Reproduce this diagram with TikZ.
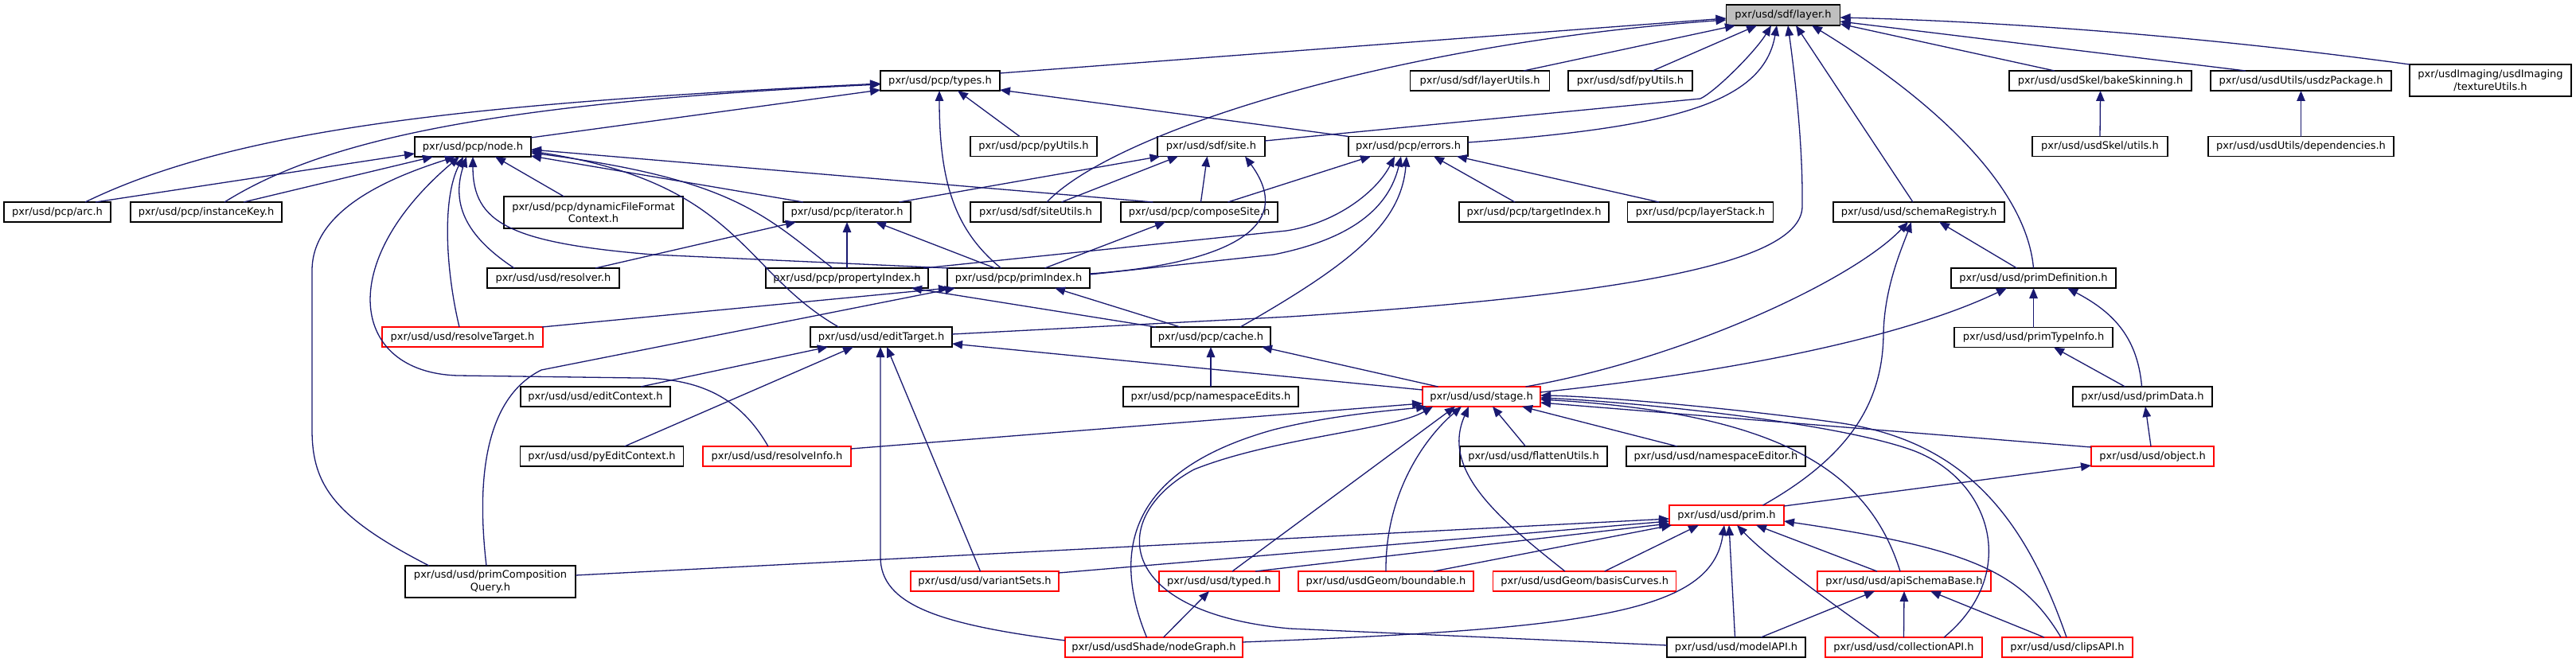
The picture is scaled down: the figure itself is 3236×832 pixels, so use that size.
\documentclass[tikz,border=0pt]{standalone}
\usepackage{fontspec}
\setmainfont{DejaVu Sans}
\usetikzlibrary{arrows.meta}
\definecolor{eblue}{RGB}{25,25,112}
\definecolor{rbord}{RGB}{255,0,0}
\definecolor{gfill}{RGB}{191,191,191}
\begin{document}
\begin{tikzpicture}[x=1pt,y=-1pt,
 box/.style={draw=black,fill=white,line width=1.2pt,inner sep=0pt,align=center,font=\fontsize{13}{15.5}\selectfont,minimum height=25pt},
 rbox/.style={box,draw=rbord},
 gbox/.style={box,fill=gfill},
 ed/.style={draw=eblue,line width=1.3pt,-{Triangle[length=13pt,width=10.5pt]}}]
\useasboundingbox[fill=white] (0,0) rectangle (3236,832);
% nodes
\node[gbox,minimum width=143pt,minimum height=26pt] (layer) at (2240,19) {pxr/usd/sdf/layer.h};
\node[box,minimum width=150pt] (types) at (1181,101.5) {pxr/usd/pcp/types.h};
\node[box,minimum width=175pt] (layerUtils) at (1859,101.5) {pxr/usd/sdf/layerUtils.h};
\node[box,minimum width=156pt] (sdfPyUtils) at (2048,101.5) {pxr/usd/sdf/pyUtils.h};
\node[box,minimum width=229pt] (bakeSkinning) at (2638.5,101.5) {pxr/usd/usdSkel/bakeSkinning.h};
\node[box,minimum width=227pt] (usdzPackage) at (2890.5,101.5) {pxr/usd/usdUtils/usdzPackage.h};
\node[box,minimum width=203pt,minimum height=40pt] (textureUtils) at (3128.5,101) {pxr/usdImaging/usdImaging\\/textureUtils.h};
\node[box,minimum width=146pt] (node) at (594,184.5) {pxr/usd/pcp/node.h};
\node[box,minimum width=159pt] (pcpPyUtils) at (1298.5,184) {pxr/usd/pcp/pyUtils.h};
\node[box,minimum width=135pt] (site) at (1521.5,184) {pxr/usd/sdf/site.h};
\node[box,minimum width=150pt] (errors) at (1769,184) {pxr/usd/pcp/errors.h};
\node[box,minimum width=170pt] (skelUtils) at (2638,184) {pxr/usd/usdSkel/utils.h};
\node[box,minimum width=233pt] (dependencies) at (2890.5,184) {pxr/usd/usdUtils/dependencies.h};
\node[box,minimum width=134pt] (arc) at (72,266.5) {pxr/usd/pcp/arc.h};
\node[box,minimum width=190pt] (instanceKey) at (259,266.5) {pxr/usd/pcp/instanceKey.h};
\node[box,minimum width=225pt,minimum height=40pt] (dynFF) at (745.5,267) {pxr/usd/pcp/dynamicFileFormat\\Context.h};
\node[box,minimum width=160pt] (iterator) at (1064,266.5) {pxr/usd/pcp/iterator.h};
\node[box,minimum width=164pt] (siteUtils) at (1301,266.5) {pxr/usd/sdf/siteUtils.h};
\node[box,minimum width=197pt] (composeSite) at (1506.5,266.5) {pxr/usd/pcp/composeSite.h};
\node[box,minimum width=188pt] (targetIndex) at (1927,266.5) {pxr/usd/pcp/targetIndex.h};
\node[box,minimum width=183pt] (layerStack) at (2136,266.5) {pxr/usd/pcp/layerStack.h};
\node[box,minimum width=215pt] (schemaRegistry) at (2410.5,266.5) {pxr/usd/usd/schemaRegistry.h};
\node[box,minimum width=166pt] (resolver) at (695,349.5) {pxr/usd/usd/resolver.h};
\node[box,minimum width=204pt] (propertyIndex) at (1064,349.5) {pxr/usd/pcp/propertyIndex.h};
\node[box,minimum width=179pt] (primIndex) at (1279.5,349.5) {pxr/usd/pcp/primIndex.h};
\node[box,minimum width=207pt] (primDefinition) at (2554.5,349.5) {pxr/usd/usd/primDefinition.h};
\node[rbox,minimum width=202pt] (resolveTarget) at (581,423.5) {pxr/usd/usd/resolveTarget.h};
\node[box,minimum width=178pt] (editTarget) at (1107,423.5) {pxr/usd/usd/editTarget.h};
\node[box,minimum width=150pt] (cache) at (1521,423.5) {pxr/usd/pcp/cache.h};
\node[box,minimum width=199pt] (primTypeInfo) at (2554.5,424) {pxr/usd/usd/primTypeInfo.h};
\node[box,minimum width=188pt] (editContext) at (748,498.5) {pxr/usd/usd/editContext.h};
\node[box,minimum width=220pt] (namespaceEdits) at (1521,498.5) {pxr/usd/pcp/namespaceEdits.h};
\node[rbox,minimum width=148pt] (stage) at (1861,498.5) {pxr/usd/usd/stage.h};
\node[box,minimum width=175pt] (primData) at (2691.5,498.5) {pxr/usd/usd/primData.h};
\node[box,minimum width=205pt] (pyEditContext) at (756,573.5) {pxr/usd/usd/pyEditContext.h};
\node[rbox,minimum width=186pt] (resolveInfo) at (976,573.5) {pxr/usd/usd/resolveInfo.h};
\node[box,minimum width=185pt] (flattenUtils) at (1926.5,573.5) {pxr/usd/usd/flattenUtils.h};
\node[box,minimum width=225pt] (namespaceEditor) at (2155.5,573.5) {pxr/usd/usd/namespaceEditor.h};
\node[rbox,minimum width=154pt] (object) at (2704,573.5) {pxr/usd/usd/object.h};
\node[rbox,minimum width=144pt] (prim) at (2169,647.5) {pxr/usd/usd/prim.h};
\node[box,minimum width=214pt,minimum height=40pt] (primCompQuery) at (616,731) {pxr/usd/usd/primComposition\\Query.h};
\node[rbox,minimum width=186pt] (variantSets) at (1237,730.5) {pxr/usd/usd/variantSets.h};
\node[rbox,minimum width=151pt] (typed) at (1531.5,730.5) {pxr/usd/usd/typed.h};
\node[rbox,minimum width=220pt] (boundable) at (1741,730.5) {pxr/usd/usdGeom/boundable.h};
\node[rbox,minimum width=230pt] (basisCurves) at (1990.7,730.5) {pxr/usd/usdGeom/basisCurves.h};
\node[rbox,minimum width=218pt] (apiSchemaBase) at (2392,730.5) {pxr/usd/usd/apiSchemaBase.h};
\node[rbox,minimum width=223pt] (nodeGraph) at (1449.5,813.5) {pxr/usd/usdShade/nodeGraph.h};
\node[box,minimum width=174pt] (modelAPI) at (2181,813.5) {pxr/usd/usd/modelAPI.h};
\node[rbox,minimum width=197pt] (collectionAPI) at (2391.5,813.5) {pxr/usd/usd/collectionAPI.h};
\node[rbox,minimum width=164pt] (clipsAPI) at (2597,813.5) {pxr/usd/usd/clipsAPI.h};
% edges
\draw[ed] ([shift={(75,-9.5)}]types.center) -- ([shift={(-71.5,4)}]layer.center);
\draw[ed] ([shift={(14,-12.5)}]siteUtils.center) .. controls (1400,165) and (1750,55) .. ([shift={(-71.5,6)}]layer.center);
\draw[ed] ([shift={(55,-12.5)}]layerUtils.center) -- ([shift={(-60,13)}]layer.center);
\draw[ed] ([shift={(28,-12.5)}]sdfPyUtils.center) -- ([shift={(-33,13)}]layer.center);
\draw[ed] ([shift={(67.5,-7)}]site.center) -- (2136,124) .. controls (2155,115) and (2205,65) .. ([shift={(-15,13)}]layer.center);
\draw[ed] ([shift={(75,-5)}]errors.center) .. controls (2100,160) and (2215,130) .. ([shift={(-8,13)}]layer.center);
\draw[ed] ([shift={(89,-3.5)}]editTarget.center) -- (1620,398) .. controls (2050,370) and (2262,330) .. (2264,260) .. controls (2265,180) and (2254,90) .. ([shift={(6,13)}]layer.center);
\draw[ed] ([shift={(-7.5,-12.5)}]schemaRegistry.center) -- ([shift={(16,13)}]layer.center);
\draw[ed] ([shift={(0,-12.5)}]primDefinition.center) .. controls (2545,230) and (2420,120) .. ([shift={(36,13)}]layer.center);
\draw[ed] ([shift={(-57.5,-12.5)}]bakeSkinning.center) -- ([shift={(71.5,11)}]layer.center);
\draw[ed] ([shift={(-69.5,-12.5)}]usdzPackage.center) -- ([shift={(71.5,8)}]layer.center);
\draw[ed] ([shift={(-101.5,-20)}]textureUtils.center) .. controls (2800,50) and (2550,28) .. ([shift={(71.5,3)}]layer.center);
\draw[ed] ([shift={(35,-12.5)}]arc.center) .. controls (300,160) and (600,130) .. ([shift={(-75,3.5)}]types.center);
\draw[ed] ([shift={(23,-12.5)}]instanceKey.center) .. controls (400,180) and (600,130) .. ([shift={(-75,4.5)}]types.center);
\draw[ed] ([shift={(73,-11.5)}]node.center) -- ([shift={(-75,11.5)}]types.center);
\draw[ed] ([shift={(-17.5,-12.5)}]pcpPyUtils.center) -- ([shift={(22,12.5)}]types.center);
\draw[ed] ([shift={(-22,-12.5)}]primIndex.center) .. controls (1200,290) and (1180,230) .. ([shift={(-1,12.5)}]types.center);
\draw[ed] ([shift={(-75,-12.5)}]errors.center) -- ([shift={(75,11.5)}]types.center);
\draw[ed] ([shift={(48,-12.5)}]arc.center) -- ([shift={(-73,8.5)}]node.center);
\draw[ed] ([shift={(47,-12.5)}]instanceKey.center) -- ([shift={(-50,12.5)}]node.center);
\draw[ed] ([shift={(-77,-20)}]primCompQuery.center) .. controls (420,650) and (392,610) .. (392,540) -- (392,340) .. controls (392,260) and (500,220) .. ([shift={(-22,12.5)}]node.center);
\draw[ed] ([shift={(-11,-12.5)}]resolveInfo.center) .. controls (930,500) and (880,475) .. (800,475) -- (575,472) .. controls (440,468) and (420,330) .. ([shift={(-17,12.5)}]node.center);
\draw[ed] ([shift={(-4,-12.5)}]resolveTarget.center) .. controls (560,340) and (555,250) .. ([shift={(-12,12.5)}]node.center);
\draw[ed] ([shift={(-49,-12.5)}]resolver.center) .. controls (590,300) and (565,260) .. ([shift={(-8,12.5)}]node.center);
\draw[ed] ([shift={(-87.5,-12.5)}]primIndex.center) -- (820,320) .. controls (640,305) and (594,280) .. ([shift={(0,12.5)}]node.center);
\draw[ed] ([shift={(-37,-20)}]dynFF.center) -- ([shift={(28,12.5)}]node.center);
\draw[ed] ([shift={(-58,-12.5)}]composeSite.center) -- ([shift={(73,3.5)}]node.center);
\draw[ed] ([shift={(-55,-12.5)}]iterator.center) -- ([shift={(73,11.5)}]node.center);
\draw[ed] ([shift={(-53.5,-12.5)}]editTarget.center) .. controls (930,340) and (930,230) .. ([shift={(73,5.5)}]node.center);
\draw[ed] ([shift={(-18,-12.5)}]propertyIndex.center) .. controls (960,270) and (920,225) .. ([shift={(73,7.5)}]node.center);
\draw[ed] ([shift={(65.5,-12.5)}]iterator.center) -- ([shift={(-64,12.5)}]site.center);
\draw[ed] ([shift={(32.5,-12.5)}]siteUtils.center) -- ([shift={(-41.5,12.5)}]site.center);
\draw[ed] ([shift={(2,-12.5)}]composeSite.center) -- ([shift={(-5,12.5)}]site.center);
\draw[ed] ([shift={(89.5,-5.5)}]primIndex.center) .. controls (1500,335) and (1640,300) .. ([shift={(42.5,12.5)}]site.center);
\draw[ed] ([shift={(36,-12.5)}]composeSite.center) -- ([shift={(-47,12.5)}]errors.center);
\draw[ed] ([shift={(96,-12.5)}]propertyIndex.center) -- (1616,290) .. controls (1680,280) and (1730,240) .. ([shift={(-17,12.5)}]errors.center);
\draw[ed] ([shift={(89.5,-4.5)}]primIndex.center) -- (1600,320) .. controls (1700,300) and (1745,260) .. ([shift={(-9,12.5)}]errors.center);
\draw[ed] ([shift={(37,-12.5)}]cache.center) .. controls (1700,330) and (1760,280) .. ([shift={(-2,12.5)}]errors.center);
\draw[ed] ([shift={(-24,-12.5)}]targetIndex.center) -- ([shift={(32,12.5)}]errors.center);
\draw[ed] ([shift={(-52,-12.5)}]layerStack.center) -- ([shift={(61,12.5)}]errors.center);
\draw[ed] ([shift={(53,-12.5)}]resolver.center) -- ([shift={(-64,12.5)}]iterator.center);
\draw[ed] ([shift={(0,-12.5)}]propertyIndex.center) -- ([shift={(0,12.5)}]iterator.center);
\draw[ed] ([shift={(-29.5,-12.5)}]primIndex.center) -- ([shift={(36,12.5)}]iterator.center);
\draw[ed] ([shift={(33,-12.5)}]primIndex.center) -- ([shift={(-42.5,12.5)}]composeSite.center);
\draw[ed] ([shift={(-69,-12.5)}]cache.center) -- ([shift={(81,12.5)}]propertyIndex.center);
\draw[ed] ([shift={(100,-12.5)}]resolveTarget.center) -- ([shift={(-87.5,12.5)}]primIndex.center);
\draw[ed] ([shift={(-5,-20)}]primCompQuery.center) .. controls (598,600) and (610,500) .. (680,465) -- ([shift={(-79.5,12.5)}]primIndex.center);
\draw[ed] ([shift={(-38.5,-12.5)}]cache.center) -- ([shift={(45.5,12.5)}]primIndex.center);
\draw[ed] ([shift={(57,-12.5)}]editContext.center) -- ([shift={(-67,12.5)}]editTarget.center);
\draw[ed] ([shift={(28.5,-12.5)}]pyEditContext.center) -- ([shift={(-35,12.5)}]editTarget.center);
\draw[ed] ([shift={(-111.5,-8.5)}]nodeGraph.center) .. controls (1180,785) and (1106,760) .. (1106,700) -- ([shift={(-1,12.5)}]editTarget.center);
\draw[ed] ([shift={(-5.5,-12.5)}]variantSets.center) -- ([shift={(7,12.5)}]editTarget.center);
\draw[ed] ([shift={(-74,-8.5)}]stage.center) -- ([shift={(89,8.5)}]editTarget.center);
\draw[ed] ([shift={(0,-12.5)}]namespaceEdits.center) -- ([shift={(0,12.5)}]cache.center);
\draw[ed] ([shift={(-54.5,-12.5)}]stage.center) -- ([shift={(64,12.5)}]cache.center);
\draw[ed] ([shift={(55.5,-12.5)}]stage.center) .. controls (2120,450) and (2330,350) .. ([shift={(-13.5,12.5)}]schemaRegistry.center);
\draw[ed] ([shift={(74,-5.5)}]stage.center) .. controls (2200,465) and (2400,420) .. ([shift={(-33.5,12.5)}]primDefinition.center);
\draw[ed] ([shift={(93,-9.5)}]resolveInfo.center) -- ([shift={(-74,8.5)}]stage.center);
\draw[ed] ([shift={(0,-12.5)}]skelUtils.center) -- ([shift={(0,12.5)}]bakeSkinning.center);
\draw[ed] ([shift={(0,-12.5)}]dependencies.center) -- ([shift={(0,12.5)}]usdzPackage.center);
\draw[ed] ([shift={(-21,-12.5)}]primDefinition.center) -- ([shift={(25.5,12.5)}]schemaRegistry.center);
\draw[ed] ([shift={(0,-12.5)}]primTypeInfo.center) -- ([shift={(0,12.5)}]primDefinition.center);
\draw[ed] ([shift={(-1,-12.5)}]primData.center) .. controls (2685,420) and (2650,390) .. ([shift={(42.5,12.5)}]primDefinition.center);
\draw[ed] ([shift={(-22,-12.5)}]primData.center) -- ([shift={(25.5,12.5)}]primTypeInfo.center);
\draw[ed] ([shift={(-2,-12.5)}]object.center) -- ([shift={(3.5,12.5)}]primData.center);
\draw[ed] ([shift={(45.5,-12.5)}]prim.center) .. controls (2330,570) and (2365,500) .. (2366,420) .. controls (2367,360) and (2390,310) .. ([shift={(-9.5,12.5)}]schemaRegistry.center);
\draw[ed] ([shift={(72,-11.5)}]prim.center) -- ([shift={(-77,11.5)}]object.center);
\draw[ed] ([shift={(-77,-11.5)}]object.center) -- ([shift={(74,7.5)}]stage.center);
\draw[ed] ([shift={(107,-8)}]primCompQuery.center) -- ([shift={(-72,4.5)}]prim.center);
\draw[ed] ([shift={(93,-10.5)}]variantSets.center) -- ([shift={(-72,7.5)}]prim.center);
\draw[ed] ([shift={(45.5,-12.5)}]typed.center) -- ([shift={(-72,10.5)}]prim.center);
\draw[ed] ([shift={(60,-12.5)}]boundable.center) -- ([shift={(-69,12.5)}]prim.center);
\draw[ed] ([shift={(25,-12.5)}]basisCurves.center) -- ([shift={(-35,12.5)}]prim.center);
\draw[ed] ([shift={(111.5,-6.5)}]nodeGraph.center) .. controls (2000,790) and (2150,770) .. ([shift={(-3,12.5)}]prim.center);
\draw[ed] ([shift={(-1.5,-12.5)}]modelAPI.center) -- ([shift={(3,12.5)}]prim.center);
\draw[ed] ([shift={(-30.5,-12.5)}]collectionAPI.center) .. controls (2290,750) and (2220,700) .. ([shift={(13,12.5)}]prim.center);
\draw[ed] ([shift={(-34,-12.5)}]apiSchemaBase.center) -- ([shift={(37,12.5)}]prim.center);
\draw[ed] ([shift={(-8,-12.5)}]clipsAPI.center) .. controls (2540,720) and (2480,690) .. ([shift={(72,7.5)}]prim.center);
\draw[ed] ([shift={(16.5,-12.5)}]typed.center) -- ([shift={(-33,12.5)}]stage.center);
\draw[ed] ([shift={(12,-12.5)}]nodeGraph.center) -- ([shift={(-12.5,12.5)}]typed.center);
\draw[ed] ([shift={(31,-12.5)}]modelAPI.center) -- ([shift={(-37,12.5)}]apiSchemaBase.center);
\draw[ed] ([shift={(0,-12.5)}]collectionAPI.center) -- ([shift={(0,12.5)}]apiSchemaBase.center);
\draw[ed] ([shift={(-29,-12.5)}]clipsAPI.center) -- ([shift={(33,12.5)}]apiSchemaBase.center);
\draw[ed] ([shift={(-10,-12.5)}]flattenUtils.center) -- ([shift={(14,12.5)}]stage.center);
\draw[ed] ([shift={(-48.5,-12.5)}]namespaceEditor.center) -- ([shift={(51,12.5)}]stage.center);
\draw[ed] ([shift={(0,-12.5)}]boundable.center) .. controls (1740,620) and (1790,550) .. ([shift={(-25,12.5)}]stage.center);
\draw[ed] ([shift={(-24.7,-12.5)}]basisCurves.center) .. controls (1880,650) and (1810,590) .. ([shift={(-16,12.5)}]stage.center);
\draw[ed] ([shift={(-5,-12.5)}]apiSchemaBase.center) .. controls (2350,600) and (2250,520) .. ([shift={(74,3.5)}]stage.center);
\draw[ed] ([shift={(-87,-2.5)}]modelAPI.center) -- (1620,790) .. controls (1400,770) and (1390,650) .. (1500,590) .. controls (1600,550) and (1750,540) .. ([shift={(-61,12.5)}]stage.center);
\draw[ed] ([shift={(-9,-12.5)}]nodeGraph.center) .. controls (1395,690) and (1420,590) .. (1600,540) .. controls (1680,520) and (1760,515) .. ([shift={(-69,12.5)}]stage.center);
\draw[ed] ([shift={(50.5,-12.5)}]collectionAPI.center) .. controls (2540,720) and (2500,600) .. (2400,565) .. controls (2300,530) and (2050,505) .. ([shift={(74,1.5)}]stage.center);
\draw[ed] ([shift={(-1,-12.5)}]clipsAPI.center) .. controls (2540,640) and (2460,550) .. (2300,530) .. controls (2150,510) and (2000,498) .. ([shift={(74,-1.5)}]stage.center);
\end{tikzpicture}
\end{document}
